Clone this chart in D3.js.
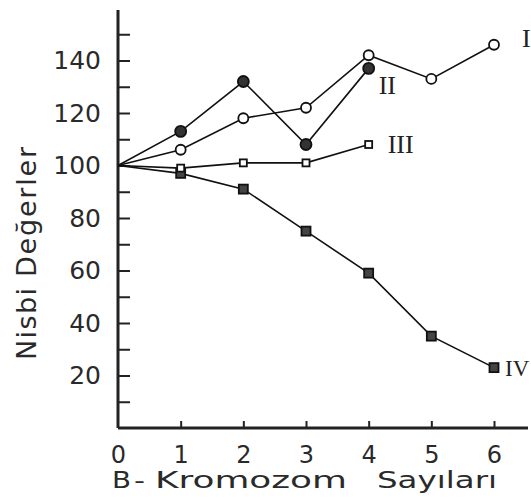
<!DOCTYPE html>
<html>
<head>
<meta charset="utf-8">
<script src="https://cdn.jsdelivr.net/npm/d3@7"></script>
<style>
  body { margin: 0; background: #fff; }
  svg text { fill: #222; }
</style>
</head>
<body>
<svg id="chart" width="531" height="500"></svg>
<script>
// Data
const xValues = [0, 1, 2, 3, 4, 5, 6];
const seriesI = [100, 106, 118, 122, 142, 133, 146];
const seriesII = [100, 113, 132, 108, 137];
const seriesIII = [100, 99, 101, 101, 108];
const seriesIV = [100, 97, 91, 75, 59, 35, 23];
const seriesNames = ["I", "II", "III", "IV"];
const yTicks = [10, 20, 30, 40, 50, 60, 70, 80, 90, 100, 110, 120, 130, 140, 150];
const yLabels = [20, 40, 60, 80, 100, 120, 140];
const xTicks = [0, 1, 2, 3, 4, 5, 6];
const xTitleWords = ["B", "-", "Kromozom", "Sayıları"];
const yTitleWords = ["Nisbi", "Değerler"];

const svg = d3.select("#chart");

const x = d3.scaleLinear().domain([0, 6]).range([118, 494]);
const y = d3.scaleLinear().domain([0, 160]).range([428, 8]);

// Y axis (ticks pointing inside)
const yAxis = svg.append("g")
    .attr("transform", `translate(${x(0)},0)`)
    .call(d3.axisLeft(y)
        .tickValues(yTicks)
        .tickSizeInner(-12)
        .tickSizeOuter(0)
        .tickPadding(17)
        .tickFormat(d => yLabels.includes(d) ? d : ""));
yAxis.select(".domain").remove();
yAxis.selectAll(".tick line").attr("stroke", "#222").attr("stroke-width", 2);
yAxis.selectAll("text")
    .attr("font-family", "DejaVu Sans, sans-serif")
    .attr("font-size", 25)
    .style("fill", "#2a2a2a");

// Axis lines drawn heavier
svg.append("line")
    .attr("x1", x(0)).attr("x2", x(0))
    .attr("y1", y(160) + 2).attr("y2", y(0))
    .attr("stroke", "#222").attr("stroke-width", 3);
svg.append("line")
    .attr("x1", x(0)).attr("x2", 528)
    .attr("y1", y(0)).attr("y2", y(0))
    .attr("stroke", "#222").attr("stroke-width", 3);

// X axis
const xAxis = svg.append("g")
    .attr("transform", `translate(0,${y(0)})`)
    .call(d3.axisBottom(x)
        .tickValues(xTicks)
        .tickSizeInner(-7)
        .tickSizeOuter(0)
        .tickPadding(18)
        .tickFormat(d3.format("d")));
xAxis.select(".domain").remove();
xAxis.selectAll(".tick line").attr("stroke", "#222").attr("stroke-width", 2)
    .filter(d => d === 0).remove();
xAxis.selectAll("text")
    .attr("font-family", "DejaVu Sans, sans-serif")
    .attr("font-size", 24)
    .style("fill", "#2a2a2a");

// Axis titles (words placed like the typeset original, wide letters)
const xWordPos = [
    { x: 112, len: 19 },
    { x: 134, len: 11 },
    { x: 155, len: 192 },
    { x: 377, len: 120 }
];
xTitleWords.forEach((w, i) => {
    svg.append("text")
        .attr("x", xWordPos[i].x).attr("y", 488)
        .attr("textLength", xWordPos[i].len)
        .attr("lengthAdjust", "spacingAndGlyphs")
        .attr("font-family", "DejaVu Sans, sans-serif")
        .attr("font-size", 23)
        .style("fill", "#2a2a2a")
        .text(w);
});

const yWordPos = [
    { y: 360, len: 72 },
    { y: 277, len: 130 }
];
yTitleWords.forEach((w, i) => {
    svg.append("text")
        .attr("transform", `translate(36,${yWordPos[i].y}) rotate(-90)`)
        .attr("textLength", yWordPos[i].len)
        .attr("lengthAdjust", "spacing")
        .attr("font-family", "DejaVu Sans, sans-serif")
        .attr("font-size", 27)
        .style("fill", "#2a2a2a")
        .text(w);
});

const line = d3.line()
    .x((d, i) => x(xValues[i]))
    .y(d => y(d));

function drawSeries(values, marker) {
    svg.append("path")
        .datum(values)
        .attr("d", line)
        .attr("fill", "none")
        .attr("stroke", "#111")
        .attr("stroke-width", 1.6);

    const pts = values.map((v, i) => ({ x: xValues[i], v })).filter(d => d.x > 0);
    const g = svg.append("g");
    if (marker === "openCircle" || marker === "fillCircle") {
        g.selectAll("circle").data(pts).join("circle")
            .attr("cx", d => x(d.x)).attr("cy", d => y(d.v))
            .attr("r", marker === "fillCircle" ? 5.5 : 5)
            .attr("fill", marker === "fillCircle" ? "#333" : "#fff")
            .attr("stroke", "#111").attr("stroke-width", 1.8);
    } else {
        const s = marker === "fillSquare" ? 9 : 7;
        g.selectAll("rect").data(pts).join("rect")
            .attr("x", d => x(d.x) - s / 2).attr("y", d => y(d.v) - s / 2)
            .attr("width", s).attr("height", s)
            .attr("fill", marker === "fillSquare" ? "#444" : "#fff")
            .attr("stroke", "#111").attr("stroke-width", 1.8);
    }
}

drawSeries(seriesIV, "fillSquare");
drawSeries(seriesIII, "openSquare");
drawSeries(seriesII, "fillCircle");
drawSeries(seriesI, "openCircle");

// Series labels
const labelPos = [
    { name: seriesNames[0], x: 6, v: seriesI[6], dx: 28, dy: 2, size: 26 },
    { name: seriesNames[1], x: 4, v: seriesII[4], dx: 10, dy: 26, size: 26 },
    { name: seriesNames[2], x: 4, v: seriesIII[4], dx: 19, dy: 8, size: 26 },
    { name: seriesNames[3], x: 6, v: seriesIV[6], dx: 11, dy: 8, size: 23 }
];
svg.selectAll(".slabel").data(labelPos).join("text")
    .attr("class", "slabel")
    .attr("x", d => x(d.x) + d.dx)
    .attr("y", d => y(d.v) + d.dy)
    .attr("font-family", "Liberation Serif, serif")
    .attr("font-size", d => d.size)
    .style("fill", "#222")
    .text(d => d.name);
</script>
</body>
</html>
